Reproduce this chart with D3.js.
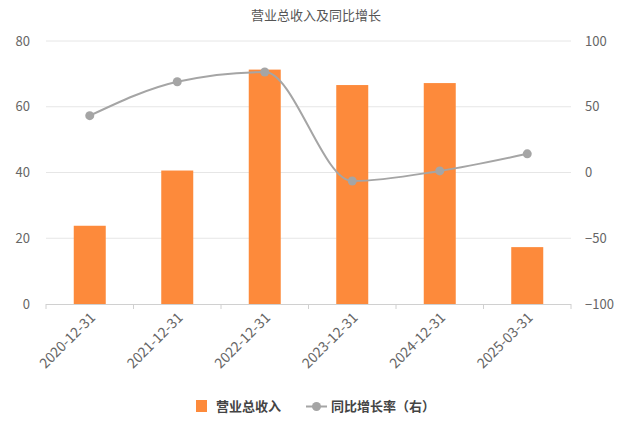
<!DOCTYPE html>
<html><head><meta charset="utf-8">
<script src="https://cdn.jsdelivr.net/npm/d3@7/dist/d3.min.js"></script>
<style>
html,body{margin:0;padding:0;background:#fff;}
svg{display:block;font-family:"Noto Sans CJK SC","Noto Sans",sans-serif;}
</style></head>
<body>
<svg id="chart" width="640" height="426"></svg>
<script>
const categories = ["2020-12-31","2021-12-31","2022-12-31","2023-12-31","2024-12-31","2025-03-31"];
const revenue = [23.8, 40.6, 71.3, 66.6, 67.2, 17.3];
const growth = [43.2, 69.0, 76.4, -6.5, 1.2, 14.2];
const leftTicks = [0, 20, 40, 60, 80];
const rightTicks = [-100, -50, 0, 50, 100];
const title = "营业总收入及同比增长";
const seriesNames = ["营业总收入", "同比增长率（右）"];

const svg = d3.select("#chart");
const m = {left: 46, right: 571, top: 41, bottom: 304};
const x = d3.scaleBand().domain(categories).range([m.left, m.right]);
const yL = d3.scaleLinear().domain([0, 80]).range([m.bottom, m.top]);
const yR = d3.scaleLinear().domain([-100, 100]).range([m.bottom, m.top]);

// title
svg.append("text").attr("x", 316).attr("y", 20).attr("text-anchor", "middle")
  .attr("font-size", 13).attr("fill", "#555").text(title);

// gridlines
svg.append("g").selectAll("line").data(leftTicks.filter(d => d !== 0)).join("line")
  .attr("x1", m.left).attr("x2", m.right)
  .attr("y1", d => yL(d)).attr("y2", d => yL(d))
  .attr("stroke", "#e6e6e6").attr("stroke-width", 1);

// left axis labels
const gl = svg.append("g").attr("transform", `translate(${m.left},0)`)
  .call(d3.axisLeft(yL).tickValues(leftTicks).tickSize(0).tickPadding(16));
gl.select(".domain").remove();
gl.selectAll("text").attr("font-size", 13).attr("fill", "#666")
  .attr("font-family", "'Noto Sans CJK SC','Noto Sans',sans-serif");

// right axis labels
const gr = svg.append("g").attr("transform", `translate(${m.right},0)`)
  .call(d3.axisRight(yR).tickValues(rightTicks).tickSize(0).tickPadding(14));
gr.select(".domain").remove();
gr.selectAll("text").attr("font-size", 13).attr("fill", "#666")
  .attr("font-family", "'Noto Sans CJK SC','Noto Sans',sans-serif");

// bars
const bw = 32;
svg.append("g").selectAll("rect").data(revenue).join("rect")
  .attr("x", (d, i) => x(categories[i]) + x.bandwidth() / 2 - bw / 2)
  .attr("width", bw)
  .attr("y", d => yL(d))
  .attr("height", d => yL(0) - yL(d))
  .attr("fill", "#fd8a3b");

// x axis
svg.append("line").attr("x1", m.left).attr("x2", m.right)
  .attr("y1", m.bottom + 0.5).attr("y2", m.bottom + 0.5)
  .attr("stroke", "#d0d0d0").attr("stroke-width", 1);
const bounds = categories.map(c => x(c)).concat([m.right]);
svg.append("g").selectAll("line").data(bounds).join("line")
  .attr("x1", d => d).attr("x2", d => d)
  .attr("y1", m.bottom).attr("y2", m.bottom + 5)
  .attr("stroke", "#d0d0d0");

svg.append("g").selectAll("text").data(categories).join("text")
  .attr("transform", d => `translate(${x(d) + x.bandwidth() / 2 + 3},${m.bottom + 11}) rotate(-45)`)
  .attr("text-anchor", "end").attr("dy", "0.35em")
  .attr("font-size", 14).attr("fill", "#666").text(d => d);

// line
const pts = growth.map((v, i) => [x(categories[i]) + x.bandwidth() / 2, yR(v)]);
svg.append("path").attr("d", d3.line().curve(d3.curveMonotoneX)(pts))
  .attr("fill", "none").attr("stroke", "#a5a5a5").attr("stroke-width", 2);
svg.append("g").selectAll("circle").data(pts).join("circle")
  .attr("cx", d => d[0]).attr("cy", d => d[1]).attr("r", 4.5)
  .attr("fill", "#a5a5a5");

// legend
const lg = svg.append("g");
lg.append("rect").attr("x", 196).attr("y", 400).attr("width", 11).attr("height", 12).attr("fill", "#fd8a3b");
lg.append("text").attr("x", 216).attr("y", 411).attr("font-size", 13).attr("font-weight", "bold")
  .attr("fill", "#444").text(seriesNames[0]);
lg.append("line").attr("x1", 306).attr("x2", 327).attr("y1", 406.5).attr("y2", 406.5)
  .attr("stroke", "#a5a5a5").attr("stroke-width", 2);
lg.append("circle").attr("cx", 316.5).attr("cy", 406.5).attr("r", 4.5).attr("fill", "#a5a5a5");
lg.append("text").attr("x", 331).attr("y", 411).attr("font-size", 13).attr("font-weight", "bold")
  .attr("fill", "#444").text(seriesNames[1]);
</script>
</body></html>
